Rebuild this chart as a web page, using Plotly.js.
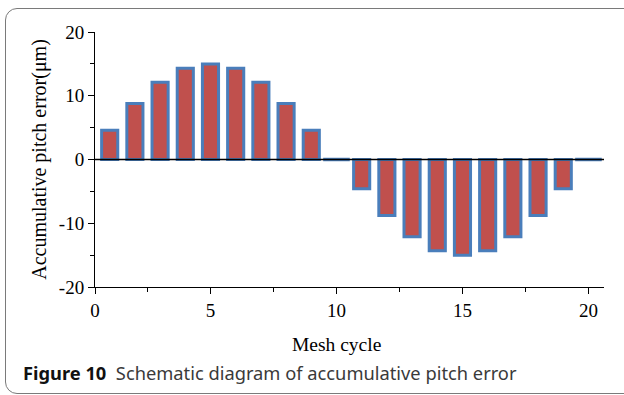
<!DOCTYPE html>
<html>
<head>
<meta charset="utf-8">
<script src="https://cdn.plot.ly/plotly-3.0.1.min.js"></script>
<style>
  html, body { margin: 0; padding: 0; background: #ffffff; }
  #wrap { position: relative; width: 624px; height: 395px; overflow: hidden; }
  #frame {
    position: absolute; left: 5px; top: 8px; width: 640px; height: 386px;
    border: 1.6px solid #7a7a7a; border-radius: 12px; box-sizing: border-box;
  }
  #chart { position: absolute; left: 0; top: 0; width: 624px; height: 395px; }
</style>
</head>
<body>
<div id="wrap">
  <div id="frame"></div>
  <div id="chart"></div>
</div>
<script>
// Accumulative pitch error per mesh cycle (µm)
const meshCycle = [1, 2, 3, 4, 5, 6, 7, 8, 9, 10, 11, 12, 13, 14, 15, 16, 17, 18, 19, 20];
const pitchError = [4.6, 8.8, 12.1, 14.3, 15.0, 14.3, 12.1, 8.8, 4.6, 0,
                    -4.6, -8.8, -12.1, -14.3, -15.0, -14.3, -12.1, -8.8, -4.6, 0];

// Axis tick labels
const xTickText = ['0', '5', '10', '15', '20'];
const yTickVals = [-20, -10, 0, 10, 20];
const yTickText = ['-20', '-10', '0', '10', '20'];

const xMin = 0.417, xMax = 20.617;
const xTickVals = [xMin, 5, 10, 15, 20];

const barFill = '#c0504d';
const barEdge = '#4a7ebb';
const serif = 'Liberation Serif, Times New Roman, serif';

// zero-valued cycles get only their outline, drawn as a flat dash
const flatX = meshCycle.filter((_, i) => pitchError[i] === 0);
const flatY = pitchError.filter(v => v === 0);

const traces = [
  {
    type: 'bar',
    x: meshCycle,
    y: pitchError,
    width: 0.64,
    marker: { color: barFill, line: { color: barEdge, width: 3 } },
    hoverinfo: 'x+y'
  },
  {
    type: 'scatter',
    mode: 'markers',
    x: flatX,
    y: flatY,
    marker: { symbol: 'line-ew', size: 19, line: { color: barEdge, width: 3.5 } },
    hoverinfo: 'skip'
  }
];

const layout = {
  width: 624,
  height: 395,
  margin: { l: 95, r: 20, t: 32, b: 108 },
  paper_bgcolor: 'rgba(0,0,0,0)',
  plot_bgcolor: 'rgba(0,0,0,0)',
  showlegend: false,
  font: { family: serif, size: 19, color: '#000' },
  xaxis: {
    range: [xMin, xMax],
    showgrid: false,
    zeroline: false,
    showline: true,
    linecolor: '#000',
    linewidth: 1,
    ticks: 'outside',
    ticklen: 6,
    tickwidth: 1,
    tickcolor: '#000',
    tickmode: 'array',
    tickvals: xTickVals,
    ticktext: xTickText,
    tickfont: { family: serif, size: 19, color: '#000' },
    minor: { tickmode: 'array', tickvals: [2.5, 7.5, 12.5, 17.5], ticks: 'outside', ticklen: 4, tickcolor: '#000' },
    title: { text: '' }
  },
  yaxis: {
    range: [-20, 20],
    showgrid: false,
    zeroline: false,
    showline: true,
    linecolor: '#000',
    linewidth: 1,
    ticks: 'outside',
    ticklen: 6,
    tickwidth: 1,
    tickcolor: '#000',
    tickmode: 'array',
    tickvals: yTickVals,
    ticktext: yTickText,
    tickfont: { family: serif, size: 19, color: '#000' },
    minor: { dtick: 5, ticks: 'outside', ticklen: 4, tickcolor: '#000' },
    title: { text: 'Accumulative pitch error(μm)', font: { family: serif, size: 20, color: '#000' }, standoff: 6 }
  },
  shapes: [
    {
      type: 'line', xref: 'paper', yref: 'y', x0: 0, x1: 1, y0: 0, y1: 0,
      line: { color: '#000', width: 1.5 }, layer: 'above'
    }
  ],
  annotations: [
    {
      text: 'Mesh cycle', xref: 'x', yref: 'paper', x: 10, y: -0.176,
      xanchor: 'center', yanchor: 'top', showarrow: false,
      font: { family: serif, size: 19.5, color: '#000' }
    },
    {
      text: '<b>Figure 10</b>  <span style="color:#3a3a3a">Schematic diagram of accumulative pitch error</span>',
      xref: 'paper', yref: 'paper', x: -0.146, y: -0.278,
      xanchor: 'left', yanchor: 'top', showarrow: false, align: 'left',
      font: { family: 'Noto Sans, Open Sans, sans-serif', size: 18.3, color: '#111' }
    }
  ]
};

Plotly.newPlot('chart', traces, layout, { displayModeBar: false, staticPlot: true });
</script>
</body>
</html>
